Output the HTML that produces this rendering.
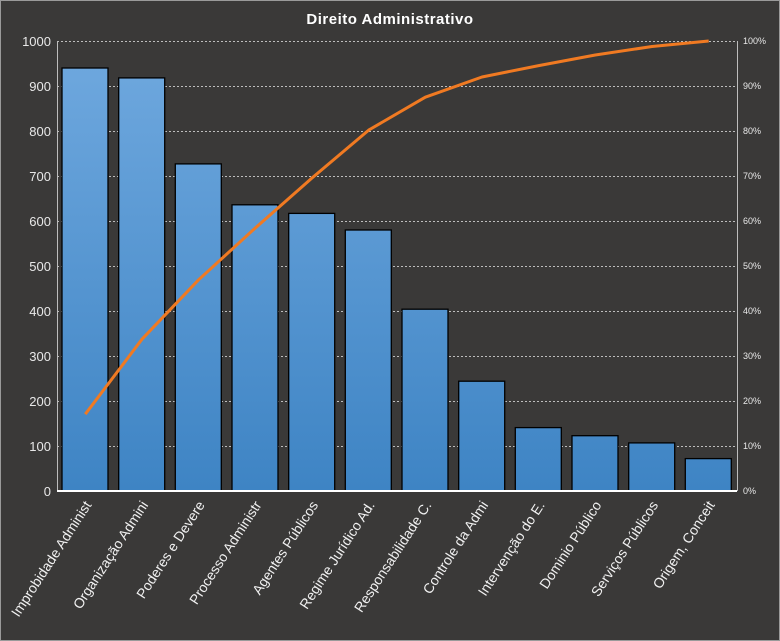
<!DOCTYPE html>
<html><head><meta charset="utf-8"><style>
html,body{margin:0;padding:0;background:#3a3938;}
svg{display:block;font-family:"Liberation Sans",sans-serif;}
</style></head><body>
<svg width="780" height="641" viewBox="0 0 780 641" xmlns="http://www.w3.org/2000/svg">
<defs><linearGradient id="g" x1="0" y1="0" x2="0" y2="1"><stop offset="0" stop-color="#6fa8de"/><stop offset="1" stop-color="#3f86c6"/></linearGradient>
<linearGradient id="g2" x1="0" y1="41" x2="0" y2="491" gradientUnits="userSpaceOnUse"><stop offset="0" stop-color="#70a9df"/><stop offset="1" stop-color="#3e84c4"/></linearGradient></defs>
<rect x="0.5" y="0.5" width="779" height="640" fill="#3a3938" stroke="#9a9a9a"/>
<text x="390" y="24" fill="#fff" font-size="15" font-weight="bold" text-anchor="middle" letter-spacing="0.5">Direito  Administrativo</text>
<g stroke="#bdbdbd" stroke-width="1" stroke-dasharray="2,2">
<line x1="57" x2="737" y1="41.5" y2="41.5"/><line x1="57" x2="737" y1="86.5" y2="86.5"/><line x1="57" x2="737" y1="131.5" y2="131.5"/><line x1="57" x2="737" y1="176.5" y2="176.5"/><line x1="57" x2="737" y1="221.5" y2="221.5"/><line x1="57" x2="737" y1="266.5" y2="266.5"/><line x1="57" x2="737" y1="311.5" y2="311.5"/><line x1="57" x2="737" y1="356.5" y2="356.5"/><line x1="57" x2="737" y1="401.5" y2="401.5"/><line x1="57" x2="737" y1="446.5" y2="446.5"/>
</g>
<g fill="url(#g2)" stroke="#000" stroke-width="1.3">
<rect x="62" y="68" width="46" height="423"/>
<rect x="118.7" y="77.9" width="46" height="413.1"/>
<rect x="175.3" y="163.9" width="46" height="327.1"/>
<rect x="232" y="204.8" width="46" height="286.2"/>
<rect x="288.7" y="213.4" width="46" height="277.6"/>
<rect x="345.3" y="230" width="46" height="261"/>
<rect x="402" y="309.2" width="46" height="181.8"/>
<rect x="458.7" y="381.2" width="46" height="109.8"/>
<rect x="515.3" y="427.6" width="46" height="63.4"/>
<rect x="572" y="435.7" width="46" height="55.3"/>
<rect x="628.7" y="442.9" width="46" height="48.1"/>
<rect x="685.3" y="458.6" width="46" height="32.4"/>
</g>
<g stroke="#bdbdbd" stroke-width="1"><line x1="57.5" y1="41" x2="57.5" y2="491"/><line x1="737.5" y1="41" x2="737.5" y2="491"/></g>
<line x1="57" y1="491" x2="737" y2="491" stroke="#fff" stroke-width="2"/>
<polyline fill="none" stroke="#f07a22" stroke-width="3" stroke-linejoin="round" points="85.3,414.2 142,339.2 198.7,279.7 255.3,228 312,178 368.7,130.1 425.3,97.2 482,77 538.7,65.6 595.3,55 652,46.5 708.7,41"/>
<g fill="#e8e8e8" font-size="13" text-anchor="end">
<text x="51" y="46">1000</text><text x="51" y="91">900</text><text x="51" y="136">800</text><text x="51" y="181">700</text><text x="51" y="226">600</text><text x="51" y="271">500</text><text x="51" y="316">400</text><text x="51" y="361">300</text><text x="51" y="406">200</text><text x="51" y="451">100</text><text x="51" y="496">0</text>
</g>
<g fill="#e8e8e8" font-size="9">
<text x="743" y="44">100%</text><text x="743" y="89">90%</text><text x="743" y="134">80%</text><text x="743" y="179">70%</text><text x="743" y="224">60%</text><text x="743" y="269">50%</text><text x="743" y="314">40%</text><text x="743" y="359">30%</text><text x="743" y="404">20%</text><text x="743" y="449">10%</text><text x="743" y="494">0%</text>
</g>
<g fill="#f0f0f0" font-size="14" text-anchor="end">
<text transform="translate(92,505) rotate(-57)">Improbidade  Administ</text>
<text transform="translate(148.7,505) rotate(-57)">Organização Admini</text>
<text transform="translate(205.3,505) rotate(-57)">Poderes  e Devere</text>
<text transform="translate(262,505) rotate(-57)">Processo Administr</text>
<text transform="translate(318.7,505) rotate(-57)">Agentes Públicos</text>
<text transform="translate(375.3,505) rotate(-57)">Regime Jurídico Ad.</text>
<text transform="translate(432,505) rotate(-57)">Responsabilidade C.</text>
<text transform="translate(488.7,505) rotate(-57)">Controle da Admi</text>
<text transform="translate(545.3,505) rotate(-57)">Intervenção do E.</text>
<text transform="translate(602,505) rotate(-57)">Dominio Público</text>
<text transform="translate(658.7,505) rotate(-57)">Serviços Públicos</text>
<text transform="translate(715.3,505) rotate(-57)">Origem, Conceit</text>
</g>
</svg>
</body></html>
